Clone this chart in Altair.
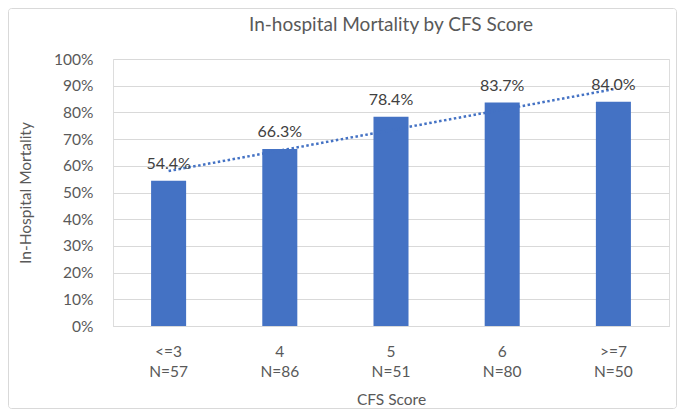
import altair as alt
import pandas as pd
import numpy as np

categories = ["<=3", "4", "5", "6", ">=7"]
n_values = [57, 86, 51, 80, 50]
mortality = [0.544, 0.663, 0.784, 0.837, 0.840]
value_labels = ["54.4%", "66.3%", "78.4%", "83.7%", "84.0%"]

keys = [f"{c}|N={n}" for c, n in zip(categories, n_values)]
idx = np.arange(len(mortality))
slope, intercept = np.polyfit(idx, mortality, 1)
trend = [intercept + slope * i for i in idx]

df = pd.DataFrame({"key": keys, "mort": mortality, "lab": value_labels, "trend": trend})

FONT = "Lato"
W, H = 556, 267
PAD_L, PAD_T = 105, 51
TOTAL_W, TOTAL_H = 669, 401


def x_enc():
    return alt.X("key:N", sort=keys, title="CFS Score",
                 scale=alt.Scale(paddingInner=0.685, paddingOuter=0.3425),
                 axis=alt.Axis(labelAngle=0, labelExpr="split(datum.value, '|')",
                               labelLineHeight=20, labelPadding=18, ticks=False,
                               domainColor="#D9D9D9", domainWidth=1,
                               labelColor="#595959", labelFontSize=15.5, labelFont=FONT,
                               titleColor="#595959", titleFontSize=15.5, titleFont=FONT,
                               titleFontWeight="normal", titlePadding=13))


def y_enc(field):
    return alt.Y(field, title="In-Hospital Mortality",
                 scale=alt.Scale(domain=[0, 1], nice=False),
                 axis=alt.Axis(format=".0%", values=[i / 10 for i in range(11)],
                               grid=True, gridColor="#D9D9D9", gridWidth=1,
                               domain=False, ticks=False, labelPadding=20,
                               labelOverlap=False,
                               labelColor="#595959", labelFontSize=15.5, labelFont=FONT,
                               titleColor="#595959", titleFontSize=15.5, titleFont=FONT,
                               titleFontWeight="normal", titlePadding=20))


base = alt.Chart(df)
bars = base.mark_bar(color="#4472C4").encode(x=x_enc(), y=y_enc("mort:Q"))
trendline = base.mark_line(color="#4472C4", strokeWidth=2.5,
                           strokeDash=[2.5, 2.5]).encode(x=x_enc(), y=y_enc("trend:Q"))
labels = base.mark_text(dy=-9, baseline="bottom", fontSize=16, font=FONT,
                        color="#404040").encode(x=x_enc(), y=y_enc("mort:Q"),
                                                text="lab:N")

border = alt.Chart(pd.DataFrame({"a": [0]})).mark_rect(
    fill=None, stroke="#D9D9D9", strokeWidth=1, cornerRadius=3).encode(
    x=alt.value(-PAD_L + 0.5), x2=alt.value(TOTAL_W - PAD_L - 0.5),
    y=alt.value(-PAD_T + 0.5), y2=alt.value(TOTAL_H - PAD_T - 0.5))

chart = alt.layer(border, bars, trendline, labels).properties(
    width=W, height=H,
    title=alt.TitleParams("In-hospital Mortality by CFS Score", font=FONT,
                          fontSize=19, fontWeight="normal", color="#595959",
                          anchor="middle", offset=-27),
    autosize=alt.AutoSizeParams(type="none"),
    padding={"left": PAD_L, "top": PAD_T,
             "right": TOTAL_W - PAD_L - W, "bottom": TOTAL_H - PAD_T - H},
).configure_view(stroke=None).configure(background="white")

chart.save("out.html", embed_options={"renderer": "svg", "actions": False})
